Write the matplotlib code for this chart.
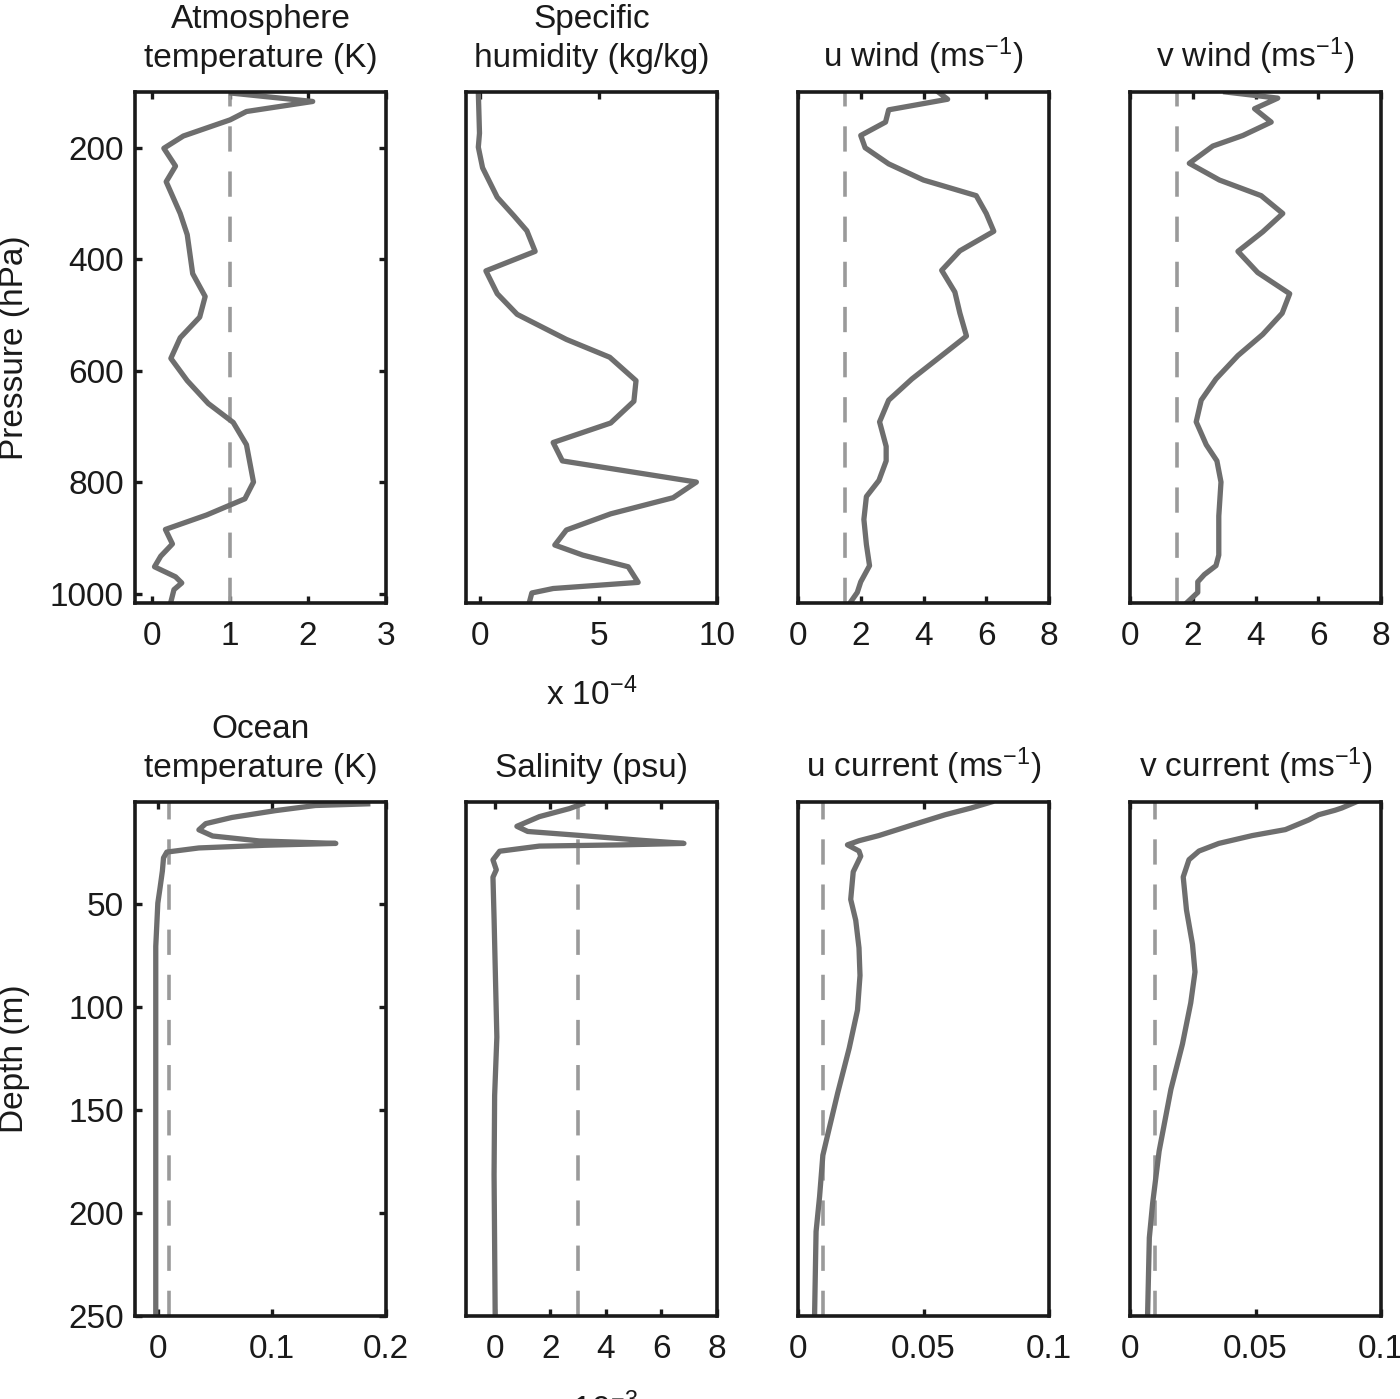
#Vertical profiles of the perturbation spread, atmosphere (top row) and ocean (bottom row)
import matplotlib
matplotlib.use('Agg')
import matplotlib.pyplot as plt
import numpy as np

plt.rcParams['font.family'] = ['Liberation Sans', 'DejaVu Sans']
plt.rcParams['mathtext.fontset'] = 'custom'
plt.rcParams['mathtext.rm'] = 'Liberation Sans'
plt.rcParams['mathtext.it'] = 'Liberation Sans:italic'
plt.rcParams['font.size'] = 24

# ---- atmosphere profiles (pressure in hPa) ----
p_temp = [102, 117, 135, 150, 179, 201, 233, 261, 318, 356, 426, 467, 504, 541, 578,
          618, 659, 693, 733, 800, 830, 859, 885, 911, 933, 952, 970, 981, 993, 1015]
atm_temp = [1.02, 2.06, 1.21, 1.0, 0.40, 0.15, 0.30, 0.18, 0.36, 0.45, 0.52, 0.68, 0.61, 0.36, 0.24,
            0.45, 0.72, 1.04, 1.21, 1.30, 1.19, 0.70, 0.17, 0.26, 0.11, 0.03, 0.30, 0.38, 0.28, 0.24]

p_hum = [100, 174, 199, 236, 289, 322, 349, 386, 421, 462, 499, 544, 576, 618, 655,
         694, 729, 762, 800, 828, 857, 886, 913, 931, 952, 980, 991, 999, 1015]
# specific humidity in units of 1e-4 kg/kg
hum = [-0.08, -0.03, -0.08, 0.1, 0.72, 1.42, 1.97, 2.32, 0.24, 0.72, 1.56, 3.64, 5.47, 6.58, 6.49,
       5.51, 3.08, 3.47, 9.13, 8.15, 5.51, 3.64, 3.15, 4.33, 6.25, 6.67, 3.08, 2.18, 2.08]

p_u = [100, 113, 132, 154, 178, 200, 229, 258, 286, 318, 350, 385, 420, 459, 497,
       538, 573, 615, 653, 692, 736, 762, 797, 826, 867, 912, 950, 979, 998, 1015]
u_wind = [4.47, 4.77, 2.89, 2.79, 2.0, 2.14, 2.89, 4.0, 5.68, 6.0, 6.24, 5.16, 4.58, 5.0, 5.16,
          5.37, 4.58, 3.63, 2.89, 2.6, 2.81, 2.81, 2.58, 2.18, 2.1, 2.18, 2.28, 2.0, 1.89, 1.68]

p_v = [100, 111, 130, 154, 178, 197, 228, 258, 286, 318, 351, 386, 424, 462, 497,
       535, 573, 615, 653, 692, 733, 762, 800, 861, 931, 950, 966, 979, 998, 1015]
v_wind = [3.05, 4.71, 3.97, 4.5, 3.6, 2.64, 1.89, 2.85, 4.18, 4.87, 4.23, 3.44, 4.07, 5.09, 4.85,
          4.23, 3.44, 2.74, 2.27, 2.11, 2.43, 2.77, 2.9, 2.83, 2.83, 2.74, 2.37, 2.16, 2.16, 1.84]

# ---- ocean profiles (depth in m) ----
d_temp = [1.4, 2.2, 4.7, 8, 11, 14, 17, 19.4, 20.6, 21.5, 22.8, 24.8, 27.6, 34, 42, 49.6, 70.6, 250]
oce_temp = [0.184, 0.138, 0.103, 0.065, 0.042, 0.036, 0.048, 0.089, 0.156, 0.094, 0.036,
            0.0079, 0.005, 0.004, 0.002, 0.0, -0.0018, -0.0018]

d_sal = [1.4, 3.7, 7.6, 12.3, 14.8, 16.7, 19, 20.6, 21.3, 21.9, 24.4, 28.6, 33.4, 37, 57,
         114.6, 143, 181.5, 250]
# salinity in units of 1e-3 psu
sal = [3.16, 2.69, 1.61, 0.80, 1.19, 3.04, 5.19, 6.81, 4.6, 1.61, 0.18, -0.06, 0.06, -0.06, -0.02,
       0.08, 0.0, -0.02, 0.02]

d_u = [0.5, 3.4, 6.7, 11.7, 16.8, 19.3, 21.3, 24.3, 26.8, 34.4, 47.8, 57.9, 71.3, 84.7, 101.5,
       120, 141.8, 158.6, 172, 192, 209, 250]
u_cur = [0.077, 0.069, 0.0586, 0.0454, 0.0322, 0.0243, 0.0197, 0.0243, 0.025, 0.022, 0.021,
         0.023, 0.0243, 0.0247, 0.0237, 0.0204, 0.0158, 0.0125, 0.0099, 0.0086, 0.0072, 0.0066]

d_v = [0.5, 3.4, 4.5, 6.7, 9.2, 13.9, 16.8, 20.6, 24.3, 28.5, 36.9, 52.9, 69.6, 83, 98,
       118, 140, 170, 195.5, 212, 250]
v_cur = [0.090, 0.0844, 0.0817, 0.0751, 0.0712, 0.0619, 0.0487, 0.0354, 0.0275, 0.0235, 0.0212,
         0.0225, 0.0249, 0.0259, 0.0242, 0.0209, 0.0163, 0.0116, 0.009, 0.0077, 0.007]

# reference (dashed) values
ref_atm = [1.0, None, 1.5, 1.5]
ref_oce = [0.01, 3.0, 0.01, 0.01]

titles_top = ['Atmosphere\ntemperature (K)', 'Specific\nhumidity (kg/kg)',
              'u wind (ms$^{-1}$)', 'v wind (ms$^{-1}$)']
titles_bot = ['Ocean\ntemperature (K)', 'Salinity (psu)',
              'u current (ms$^{-1}$)', 'v current (ms$^{-1}$)']

xlims_top = [(-0.22, 3), (-0.6, 10), (0, 8), (0, 8)]
xticks_top = [[0, 1, 2, 3], [0, 5, 10], [0, 2, 4, 6, 8], [0, 2, 4, 6, 8]]
xlims_bot = [(-0.02, 0.2), (-1.03, 8), (0, 0.1), (0, 0.1)]
xticks_bot = [[0, 0.1, 0.2], [0, 2, 4, 6, 8], [0, 0.05, 0.1], [0, 0.05, 0.1]]
xticklabels_bot = [['0', '0.1', '0.2'], ['0', '2', '4', '6', '8'],
                   ['0', '0.05', '0.1'], ['0', '0.05', '0.1']]

line_col = '#6e6e6e'
dash_col = '#9a9a9a'
txt_col = '#1a1a1a'
W, H = 1400, 1399

fig = plt.figure(figsize=(W / 100, H / 100), dpi=100)

lefts = [135, 466, 798, 1130]
width = 251


def make_ax(left, top, bottom):
    return fig.add_axes([left / W, 1 - bottom / H, width / W, (bottom - top) / H])


def style(ax):
    for s in ax.spines.values():
        s.set_linewidth(2.6)
        s.set_color(txt_col)
    ax.tick_params(direction='in', length=5, width=2.4, top=True, right=True,
                   colors=txt_col, labelsize=24, labelcolor=txt_col)
    ax.tick_params(axis='x', pad=13)
    ax.tick_params(axis='y', pad=8)


top_data = [(atm_temp, p_temp), (hum, p_hum), (u_wind, p_u), (v_wind, p_v)]
bot_data = [(oce_temp, d_temp), (sal, d_sal), (u_cur, d_u), (v_cur, d_v)]

for i in range(4):
    ax = make_ax(lefts[i], 92, 603)
    x, y = top_data[i]
    if ref_atm[i] is not None:
        ax.axvline(ref_atm[i], color=dash_col, lw=2.6, dashes=(7, 5.5))
    ax.plot(x, y, color=line_col, lw=3.8)
    ax.set_xlim(*xlims_top[i])
    ax.set_ylim(1017, 100)
    ax.set_xticks(xticks_top[i])
    style(ax)
    if i == 0:
        ax.set_yticks([200, 400, 600, 800, 1000])
    else:
        ax.set_yticks([])
    ax.set_title(titles_top[i], fontsize=24, pad=18, linespacing=1.32, color=txt_col)

for i in range(4):
    ax = make_ax(lefts[i], 802, 1316)
    x, y = bot_data[i]
    ax.axvline(ref_oce[i], color=dash_col, lw=2.6, dashes=(7, 5.5))
    ax.plot(x, y, color=line_col, lw=3.8)
    ax.set_xlim(*xlims_bot[i])
    ax.set_ylim(250, 0.5)
    ax.set_xticks(xticks_bot[i])
    ax.set_xticklabels(xticklabels_bot[i])
    style(ax)
    if i == 0:
        ax.set_yticks([50, 100, 150, 200, 250])
    else:
        ax.set_yticks([])
    ax.set_title(titles_bot[i], fontsize=24, pad=18, linespacing=1.32, color=txt_col)

fig.text(15 / W, 1 - 348 / H, 'Pressure (hPa)', rotation=90, ha='center', va='center',
         fontsize=24, color=txt_col)
fig.text(15 / W, 1 - 1059 / H, 'Depth (m)', rotation=90, ha='center', va='center',
         fontsize=24, color=txt_col)
fig.text(592 / W, 1 - 695 / H, 'x 10$^{-4}$', ha='center', va='center', fontsize=24,
         color=txt_col)
fig.text(592 / W, 1 - 1410 / H, 'x 10$^{-3}$', ha='center', va='center', fontsize=24,
         color=txt_col)

fig.savefig('out.png', dpi=100)
